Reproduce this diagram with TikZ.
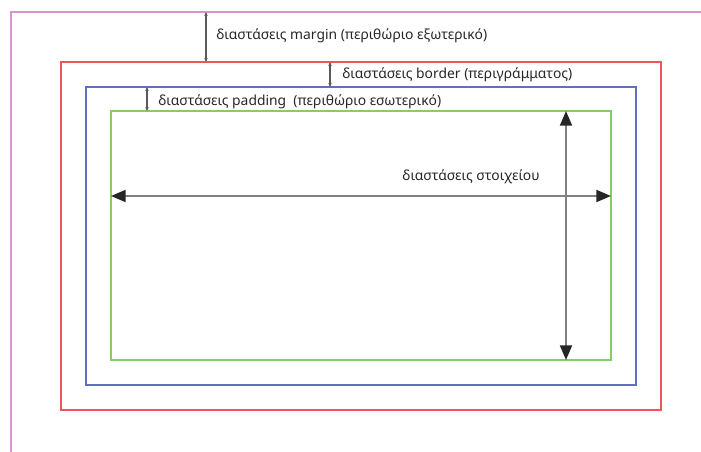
\documentclass[tikz,border=0pt]{standalone}
\usepackage{fontspec}
\setmainfont{Noto Sans}
\usetikzlibrary{arrows.meta}
\definecolor{pinkline}{RGB}{214,150,204}
\definecolor{redline}{RGB}{240,84,92}
\definecolor{blueline}{RGB}{96,112,190}
\definecolor{greenline}{RGB}{134,204,104}
\tikzset{
    box/.style={draw, rectangle, inner sep=0pt, outer sep=0pt, line width=1.1pt},
    small dim/.style={{Stealth[length=3pt,width=2.6pt]}-{Stealth[length=3pt,width=2.6pt]}, line width=0.8pt, black!65},
    big dim/.style={{Triangle[length=11pt,width=9pt,color=black!85]}-{Triangle[length=11pt,width=9pt,color=black!85]}, line width=1.5pt, black!50},
    caption/.style={font=\fontsize{10.4}{12}\selectfont, inner sep=0pt, text=black!85}
}
\begin{document}
\begin{tikzpicture}[x=0.75pt, y=-0.75pt]
        \useasboundingbox (0,0) rectangle (701,452);
        % the four boxes
        \draw[pinkline, line width=1.1pt] (11,452) |- (701,12);
        \node (margin) [box, draw=redline, minimum width=450pt, minimum height=261pt] at (361,236) {};
        \node (border) [box, draw=blueline, minimum width=412.5pt, minimum height=223.5pt] at (361,236) {};
        \node (elem) [box, draw=greenline, minimum width=375pt, minimum height=186.75pt] at (361,235.5) {};
        \coordinate (mgtop) at (206,12);
        \coordinate (bdcol) at (330,0);
        \coordinate (pdcol) at (147,0);
        \coordinate (hrow) at (0,196);
        \coordinate (vcol) at (566,0);
        % small dimension arrows
        \draw[small dim] (mgtop) -- (mgtop |- margin.north);
        \draw[small dim] (bdcol |- margin.north) -- (bdcol |- border.north);
        \draw[small dim] (pdcol |- border.north) -- (pdcol |- elem.north);
        \node (mgtext) [caption, anchor=base west] at (216,40) {διαστάσεις margin (περιθώριο εξωτερικό)};
        \node (bdtext) [caption, anchor=base west] at (342,79) {διαστάσεις border (περιγράμματος)};
        \node (pdtext) [caption, anchor=base west] at (158,105.5) {διαστάσεις padding~ (περιθώριο εσωτερικό)};
        % element size
        \draw[big dim] (elem.west |- hrow) -- (elem.east |- hrow);
        \draw[big dim] (vcol |- elem.north) -- (vcol |- elem.south);
        \node (eltext) [caption, anchor=base] at (471,181) {διαστάσεις στοιχείου};
\end{tikzpicture}
\end{document}
